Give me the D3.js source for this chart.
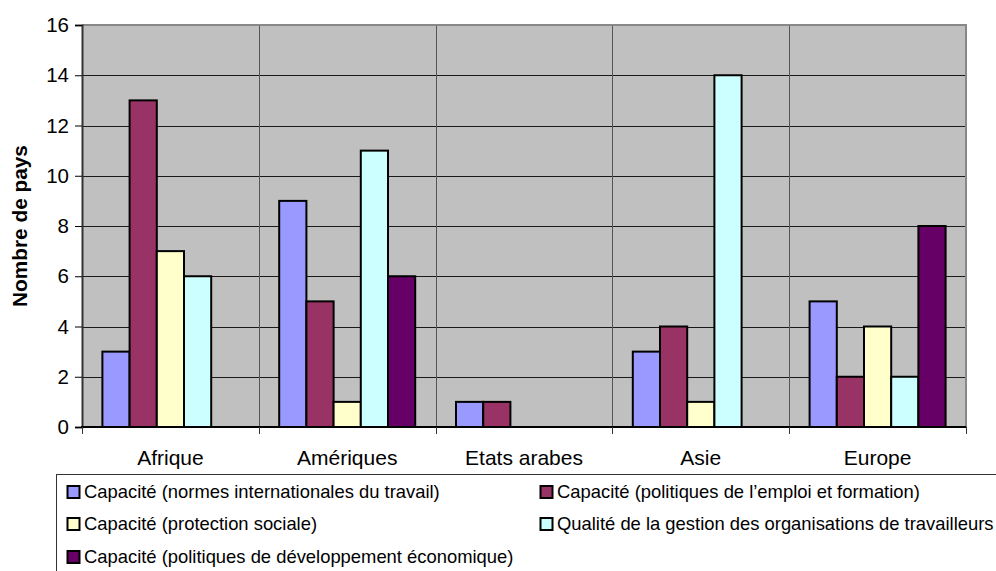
<!DOCTYPE html>
<html>
<head>
<meta charset="utf-8">
<script src="https://cdn.jsdelivr.net/npm/d3@7"></script>
<style>
  html, body { margin: 0; padding: 0; background: #fff; }
  svg { display: block; font-family: "Liberation Sans", Arial, sans-serif; }
</style>
</head>
<body>
<svg id="chart" width="996" height="571"></svg>
<script>
// Régions et séries
const regions = ["Afrique", "Amériques", "Etats arabes", "Asie", "Europe"];
const seriesNames = [
  "Capacité (normes internationales du travail)",
  "Capacité (politiques de l’emploi et formation)",
  "Capacité (protection sociale)",
  "Qualité de la gestion des organisations de travailleurs",
  "Capacité (politiques de développement économique)"
];
const seriesColors = ["#9999FF", "#993366", "#FFFFCC", "#CCFFFF", "#660066"];

// Nombre de pays par région, une liste par série
const normesIntl      = [3, 9, 1, 3, 5];
const emploiFormation = [13, 5, 1, 4, 2];
const protSociale     = [7, 1, 0, 1, 4];
const gestionOrg      = [6, 11, 0, 14, 2];
const devEconomique   = [0, 6, 0, 0, 8];
const seriesValues = [normesIntl, emploiFormation, protSociale, gestionOrg, devEconomique];

const yTicks = [0, 2, 4, 6, 8, 10, 12, 14, 16];

const svg = d3.select("#chart");
const plot = { left: 82, right: 966, top: 25, bottom: 427 };

const x0 = d3.scaleBand().domain(regions).range([plot.left, plot.right]).padding(0);
// gap width of 1.5 bars split on both sides of each group
const barW = x0.bandwidth() / (seriesNames.length + 1.5);
const x1 = d3.scaleBand().domain(d3.range(seriesNames.length))
  .range([0.75 * barW, 0.75 * barW + barW * seriesNames.length]).padding(0);
const y = d3.scaleLinear().domain([0, 16]).range([plot.bottom, plot.top]);

// plot background
svg.append("rect")
  .attr("x", plot.left).attr("y", plot.top)
  .attr("width", plot.right - plot.left).attr("height", plot.bottom - plot.top)
  .attr("fill", "#C0C0C0");

// horizontal gridlines
svg.append("g").selectAll("line").data(yTicks.filter(d => d > 0 && d < 16)).join("line")
  .attr("x1", plot.left).attr("x2", plot.right)
  .attr("y1", d => Math.round(y(d)) + 0.5).attr("y2", d => Math.round(y(d)) + 0.5)
  .attr("stroke", "#1a1a1a").attr("stroke-width", 1);

// vertical separators between regions
svg.append("g").selectAll("line").data(regions.slice(1)).join("line")
  .attr("x1", d => Math.round(x0(d)) + 0.5).attr("x2", d => Math.round(x0(d)) + 0.5)
  .attr("y1", plot.top).attr("y2", plot.bottom)
  .attr("stroke", "#555").attr("stroke-width", 1);

// plot frame (top and right)
svg.append("path")
  .attr("d", `M${plot.left},${plot.top} H${plot.right} V${plot.bottom}`)
  .attr("fill", "none").attr("stroke", "#888").attr("stroke-width", 2);

// bars
const groups = svg.append("g").selectAll("g").data(regions).join("g")
  .attr("transform", d => `translate(${x0(d)},0)`);
groups.selectAll("rect")
  .data((r, ri) => seriesValues.map((vals, si) => ({ si, v: vals[ri] })).filter(d => d.v > 0))
  .join("rect")
  .attr("x", d => x1(d.si))
  .attr("y", d => y(d.v))
  .attr("width", x1.bandwidth())
  .attr("height", d => y(0) - y(d.v))
  .attr("fill", d => seriesColors[d.si])
  .attr("stroke", "#000").attr("stroke-width", 2);

// y axis
const yAxis = svg.append("g")
  .attr("transform", `translate(${plot.left},0)`)
  .call(d3.axisLeft(y).tickValues(yTicks).tickSize(7).tickPadding(6).tickFormat(d3.format("d")));
yAxis.attr("font-size", null).attr("font-family", null);
yAxis.select(".domain").attr("stroke", "#333").attr("stroke-width", 2);
yAxis.selectAll(".tick line").attr("stroke", "#000");
yAxis.selectAll("text").attr("font-size", 20.5).attr("fill", "#000");

// x axis with ticks at region boundaries
const xAxisG = svg.append("g").attr("transform", `translate(0,${plot.bottom})`);
xAxisG.append("line")
  .attr("x1", plot.left - 1).attr("x2", plot.right)
  .attr("y1", 0).attr("y2", 0).attr("stroke", "#000").attr("stroke-width", 2);
const bounds = regions.map(r => x0(r)).concat([plot.right]);
xAxisG.selectAll("line.tick").data(bounds).join("line").attr("class", "tick")
  .attr("x1", d => Math.round(d) + 0.5).attr("x2", d => Math.round(d) + 0.5)
  .attr("y1", 0).attr("y2", 7).attr("stroke", "#333");
xAxisG.selectAll("text").data(regions).join("text")
  .attr("x", d => x0(d) + x0.bandwidth() / 2)
  .attr("y", 38)
  .attr("text-anchor", "middle")
  .attr("font-size", 21).attr("fill", "#000")
  .text(d => d);

// y axis title
svg.append("text")
  .attr("transform", `translate(27,${(plot.top + plot.bottom) / 2}) rotate(-90)`)
  .attr("text-anchor", "middle")
  .attr("font-size", 20.8).attr("font-weight", "bold")
  .text("Nombre de pays");

// legend
const legend = svg.append("g");
legend.append("rect")
  .attr("x", 56.5).attr("y", 474.5).attr("width", 960).attr("height", 120)
  .attr("fill", "#fff").attr("stroke", "#333").attr("stroke-width", 1);
const legCols = [67, 540];
const legRows = [492, 524, 557];
const items = legend.selectAll("g.item").data(seriesNames).join("g").attr("class", "item")
  .attr("transform", (d, i) => `translate(${legCols[i % 2]},${legRows[Math.floor(i / 2)]})`);
items.append("rect")
  .attr("x", 0.5).attr("y", -6).attr("width", 12).attr("height", 12)
  .attr("fill", (d, i) => seriesColors[i])
  .attr("stroke", "#000").attr("stroke-width", 2);
items.append("text")
  .attr("x", 17).attr("y", 0).attr("dy", "0.35em")
  .attr("font-size", 18.4).attr("fill", "#000")
  .text(d => d);
</script>
</body>
</html>
